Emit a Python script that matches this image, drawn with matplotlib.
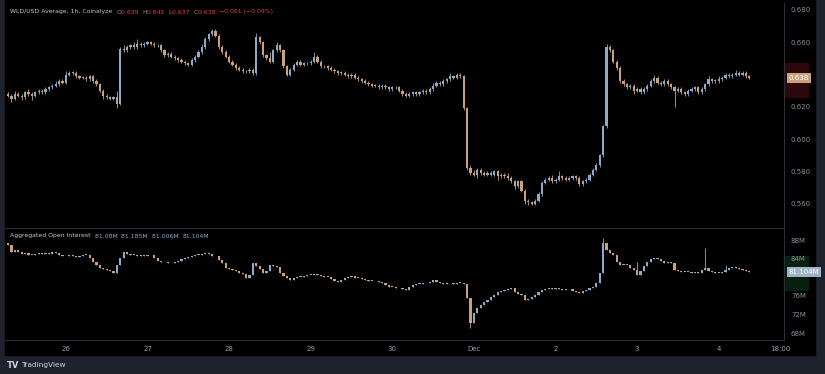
import numpy as np
import matplotlib
matplotlib.use('Agg')
import matplotlib.pyplot as plt
from matplotlib.patches import Rectangle

# hourly WLD/USD closes, in thousandths of a dollar
price_open0 = 628
price_close = [
    627, 625, 628, 627, 626, 629, 628, 627, 629, 630,
    629, 631, 632, 633, 634, 636, 635, 640, 641, 641,
    639, 638, 638, 637, 639, 636, 634, 630, 627, 626,
    625, 626, 622, 656, 655, 657, 658, 657, 659, 658,
    659, 660, 659, 658, 658, 655, 652, 653, 651, 650,
    649, 648, 647, 646, 649, 651, 654, 657, 662, 665,
    667, 664, 657, 654, 651, 648, 646, 644, 643, 642,
    642, 643, 641, 663, 660, 652, 650, 648, 655, 658,
    655, 645, 640, 643, 646, 648, 646, 647, 647, 648,
    651, 648, 645, 645, 644, 643, 642, 641, 641, 640,
    639, 640, 638, 637, 636, 635, 634, 633, 633, 632,
    633, 632, 631, 632, 632, 630, 628, 627, 628, 629,
    628, 629, 630, 629, 631, 633, 635, 634, 636, 637,
    639, 638, 640, 639, 619, 582, 579, 578, 581, 579,
    578, 579, 578, 580, 577, 578, 577, 576, 574, 571,
    574, 568, 562, 561, 560, 562, 566, 573, 575, 576,
    574, 575, 577, 576, 575, 576, 577, 576, 572, 574,
    575, 578, 581, 584, 590, 608, 657, 655, 648, 644,
    636, 634, 632, 633, 630, 631, 629, 631, 633, 636,
    638, 635, 634, 636, 634, 632, 630, 631, 629, 628,
    630, 631, 632, 629, 631, 634, 637, 636, 636, 637,
    638, 640, 639, 640, 641, 640, 641, 639, 638,
]
# wick lengths above / below the body, thousandths
wick_up = [
    1, 1, 2, 1, 1, 1, 2, 1, 1, 1,
    1, 1, 1, 1, 2, 1, 1, 2, 1, 1,
    1, 1, 1, 1, 1, 1, 1, 1, 1, 1,
    1, 1, 4, 1, 2, 1, 1, 2, 3, 1,
    1, 1, 1, 1, 1, 1, 1, 1, 1, 1,
    1, 1, 1, 1, 1, 1, 1, 2, 1, 1,
    1, 1, 1, 1, 1, 1, 1, 1, 1, 1,
    1, 1, 1, 3, 1, 1, 1, 4, 1, 2,
    1, 1, 1, 1, 1, 1, 1, 1, 1, 1,
    3, 1, 1, 1, 1, 1, 1, 1, 1, 1,
    1, 1, 1, 1, 1, 1, 1, 1, 1, 1,
    1, 1, 1, 1, 1, 1, 1, 1, 1, 1,
    1, 1, 1, 1, 1, 2, 1, 1, 1, 1,
    2, 1, 1, 1, 1, 1, 2, 2, 1, 1,
    1, 1, 1, 1, 1, 1, 1, 2, 1, 1,
    1, 1, 1, 1, 1, 1, 1, 1, 1, 1,
    2, 1, 3, 1, 1, 1, 1, 1, 1, 1,
    1, 1, 1, 1, 1, 1, 2, 1, 1, 1,
    1, 1, 1, 1, 1, 1, 1, 1, 1, 1,
    2, 1, 1, 1, 1, 1, 1, 1, 1, 1,
    1, 1, 1, 1, 1, 1, 2, 1, 1, 2,
    1, 1, 1, 1, 2, 1, 1, 1, 1,
]
wick_dn = [
    1, 2, 1, 1, 2, 1, 1, 3, 1, 1,
    1, 1, 1, 1, 1, 1, 1, 1, 1, 1,
    1, 1, 1, 1, 1, 1, 1, 1, 2, 1,
    1, 1, 3, 1, 1, 1, 1, 1, 1, 1,
    1, 1, 1, 1, 1, 1, 1, 1, 1, 1,
    1, 1, 1, 1, 1, 1, 1, 1, 1, 1,
    1, 1, 1, 1, 1, 1, 1, 1, 1, 1,
    1, 1, 1, 1, 1, 1, 1, 1, 1, 1,
    1, 1, 1, 1, 1, 1, 1, 1, 1, 1,
    1, 1, 1, 1, 1, 1, 1, 1, 1, 1,
    1, 1, 1, 1, 1, 1, 1, 1, 1, 1,
    1, 1, 1, 1, 1, 1, 1, 1, 1, 1,
    1, 1, 1, 1, 1, 1, 1, 1, 1, 1,
    1, 1, 1, 1, 1, 1, 1, 1, 2, 1,
    1, 1, 1, 1, 2, 1, 1, 1, 1, 2,
    1, 1, 2, 2, 1, 1, 1, 1, 1, 1,
    1, 1, 1, 1, 1, 1, 1, 1, 1, 1,
    1, 1, 1, 1, 1, 1, 1, 1, 1, 1,
    1, 1, 1, 1, 2, 1, 1, 1, 1, 1,
    1, 1, 1, 1, 1, 1, 10, 1, 1, 1,
    1, 1, 1, 1, 1, 1, 1, 1, 1, 1,
    1, 1, 1, 1, 1, 1, 1, 1, 1,
]

# aggregated open interest closes, millions
oi_open0 = 87.3
oi_close = [
    86.9, 85.4, 85.8, 85.4, 85.0, 85.2, 84.8, 84.9, 85.0, 85.3,
    85.1, 85.3, 85.0, 85.4, 85.2, 84.9, 84.6, 84.5, 84.7, 84.6,
    84.4, 84.6, 84.9, 84.8, 84.2, 83.3, 82.6, 82.0, 81.8, 81.5,
    81.3, 81.0, 82.6, 84.2, 85.4, 85.0, 84.8, 84.9, 84.6, 84.7,
    84.5, 84.8, 84.7, 84.2, 83.5, 83.4, 83.2, 83.0, 83.1, 83.3,
    83.6, 84.0, 84.2, 84.4, 84.6, 84.8, 84.9, 85.0, 85.2, 85.0,
    84.6, 84.5, 83.7, 83.0, 82.0, 81.8, 81.5, 81.3, 81.0, 80.8,
    79.8, 80.4, 83.0, 82.5, 81.8, 80.9, 81.3, 82.6, 82.4, 82.2,
    80.9, 80.2, 79.8, 79.4, 79.8, 80.1, 80.0, 80.3, 80.5, 80.6,
    80.8, 80.4, 80.2, 80.1, 80.0, 79.6, 79.3, 79.0, 79.4, 79.8,
    80.0, 80.2, 79.9, 79.8, 79.6, 79.4, 79.2, 79.3, 79.1, 79.0,
    78.8, 78.4, 78.0, 77.9, 77.8, 77.6, 77.4, 77.2, 77.9, 78.3,
    78.5, 78.6, 78.7, 78.8, 79.0, 79.4, 79.0, 78.8, 78.6, 78.7,
    78.7, 78.6, 78.8, 78.8, 78.5, 75.5, 70.1, 72.3, 73.4, 74.0,
    74.7, 75.2, 75.7, 76.2, 76.8, 77.0, 77.3, 77.5, 77.6, 76.8,
    76.5, 76.2, 75.1, 75.3, 75.7, 76.2, 76.8, 77.2, 77.4, 77.6,
    77.5, 77.6, 77.5, 77.3, 77.4, 77.4, 77.1, 76.8, 76.6, 77.0,
    77.3, 77.6, 78.0, 78.7, 80.9, 87.4, 85.8, 85.2, 84.8, 83.3,
    82.6, 82.7, 82.6, 82.0, 81.5, 80.5, 81.3, 82.5, 83.3, 84.0,
    84.1, 83.9, 83.6, 83.0, 83.2, 83.0, 81.5, 81.3, 81.1, 81.2,
    81.1, 81.0, 81.2, 81.0, 81.6, 82.0, 81.3, 81.1, 80.9, 81.0,
    81.2, 81.5, 82.0, 82.2, 82.1, 81.8, 81.5, 81.3, 81.104,
]
# the few OI wicks that stick out
oi_spike_hi = {175: 88.4, 205: 86.3, 185: 83.4, 211: 82.6}
oi_spike_lo = {136: 69.1}

day_labels = ['26', '27', '28', '29', '30', 'Dec', '2', '3', '4', '18:00']
day_hours = [17, 41, 65, 89, 113, 137, 161, 185, 209, 227]  # hours since first candle
# 0.640 and 80M sit under the last-value tags, so they are not labelled
price_ticks = [0.560, 0.580, 0.600, 0.620, 0.660, 0.680]
oi_ticks = [68, 72, 76, 84, 88]

UP = '#8fa9c9'
DOWN = '#c9a27c'
GRID = '#2a2e39'
TXT = '#8a8e97'

W, H = 825, 374
fig = plt.figure(figsize=(W / 100, H / 100), dpi=100)
fig.patch.set_facecolor('#1e222d')


def fx(px):
    return px / W


def fy(py):
    return 1 - py / H


def frect(x0, y0, x1, y1, color, z):
    fig.patches.append(Rectangle((fx(x0), fy(y1)), fx(x1) - fx(x0), fy(y0) - fy(y1),
                                 transform=fig.transFigure, color=color, zorder=z))


frect(5, 0, 815, 355, '#000000', -5)

ax1 = fig.add_axes([fx(5), fy(228), fx(784) - fx(5), fy(3) - fy(228)])
ax2 = fig.add_axes([fx(5), fy(340), fx(784) - fx(5), fy(229) - fy(340)], sharex=ax1)
ax1.set_zorder(2)
ax2.set_zorder(2)


def candles(ax, x, o, c, hi, lo, minh):
    o = np.asarray(o)
    c = np.asarray(c)
    cols = [UP if cc >= oo else DOWN for oo, cc in zip(o, c)]
    bottom = np.minimum(o, c)
    height = np.maximum(np.abs(c - o), minh)
    ax.vlines(x, lo, hi, colors=cols, linewidth=0.6, zorder=2)
    ax.bar(x, height, bottom=bottom, width=0.62, color=cols, linewidth=0, zorder=3)


n = len(price_close)
x = np.arange(n)
pc = np.array(price_close) / 1000
po = np.concatenate([[price_open0 / 1000], pc[:-1]])
ph = np.maximum(po, pc) + np.array(wick_up) / 1000
pl = np.minimum(po, pc) - np.array(wick_dn) / 1000
candles(ax1, x, po, pc, ph, pl, 0.0004)

oc = np.array(oi_close)
oo = np.concatenate([[oi_open0], oc[:-1]])
oh = np.maximum(oo, oc)
ol = np.minimum(oo, oc)
for i, v in oi_spike_hi.items():
    oh[i] = v
for i, v in oi_spike_lo.items():
    ol[i] = v
candles(ax2, x, oo, oc, oh, ol, 0.18)

for ax in (ax1, ax2):
    ax.set_facecolor('none')
    for s in ('left', 'top'):
        ax.spines[s].set_visible(False)
    ax.spines['right'].set_color(GRID)
    ax.spines['bottom'].set_color(GRID)
    ax.spines['right'].set_linewidth(0.8)
    ax.spines['bottom'].set_linewidth(0.8)
    ax.yaxis.tick_right()
    ax.tick_params(axis='y', length=0, pad=5, labelsize=5, colors=TXT)
    ax.tick_params(axis='x', length=0, pad=4, labelsize=5, colors='#9a9ea6')

ax1.set_xlim(-0.9, 228.2)
ax1.set_ylim(0.5450, 0.6843)
ax1.set_yticks(price_ticks)
ax1.set_yticklabels(['%.3f' % t for t in price_ticks])
ax1.tick_params(axis='x', labelbottom=False)

ax2.set_ylim(66.5, 90.4)
ax2.set_yticks(oi_ticks)
ax2.set_yticklabels(['%dM' % t for t in oi_ticks])
ax2.set_xticks(day_hours)
ax2.set_xticklabels(day_labels)

# last value tags on the right scale
frect(784, 63, 808, 97, '#2c080c', 1)
frect(784, 256, 808, 290, '#07200f', 1)
ax1.text(1.006, pc[-1], '%.3f' % pc[-1], transform=ax1.get_yaxis_transform(),
         fontsize=5, color='white', va='center', ha='left', zorder=5, clip_on=False,
         bbox=dict(boxstyle='square,pad=0.25', fc='#c9a27c', ec='none'))
ax2.text(1.006, oc[-1], '%.3fM' % oc[-1], transform=ax2.get_yaxis_transform(),
         fontsize=5, color='white', va='center', ha='left', zorder=5, clip_on=False,
         bbox=dict(boxstyle='square,pad=0.25', fc='#9fb2c6', ec='none'))

# legends along the top of each pane
red = '#e0434e'
parts = [('WLD/USD Average, 1h, Coinalyze  ', '#c8cad0'), ('O', TXT), ('0.639  ', red),
         ('H', TXT), ('0.641  ', red), ('L', TXT), ('0.637  ', red), ('C', TXT),
         ('0.638  ', red), ('\u22120.001 (\u22120.09%)', red)]
xpos = fx(10)
for s, col in parts:
    tt = fig.text(xpos, fy(12), s, fontsize=4.4, color=col, va='center', ha='left', zorder=6)
    fig.canvas.draw()
    xpos = tt.get_window_extent().x1 / W

blue = '#8fa9c9'
parts2 = [('Aggregated Open Interest  ', '#c8cad0'), ('81.08M  ', blue), ('81.185M  ', blue),
          ('81.006M  ', blue), ('81.104M', blue)]
xpos = fx(10)
for s, col in parts2:
    tt = fig.text(xpos, fy(236), s, fontsize=4.4, color=col, va='center', ha='left', zorder=6)
    fig.canvas.draw()
    xpos = tt.get_window_extent().x1 / W

fig.text(fx(7), fy(365), 'TV', fontsize=6, color='#d1d4dc', weight='bold', va='center')
fig.text(fx(21.5), fy(365), 'TradingView', fontsize=5.3, color='#d1d4dc', va='center')

fig.savefig('out.png', dpi=100, facecolor=fig.get_facecolor())
